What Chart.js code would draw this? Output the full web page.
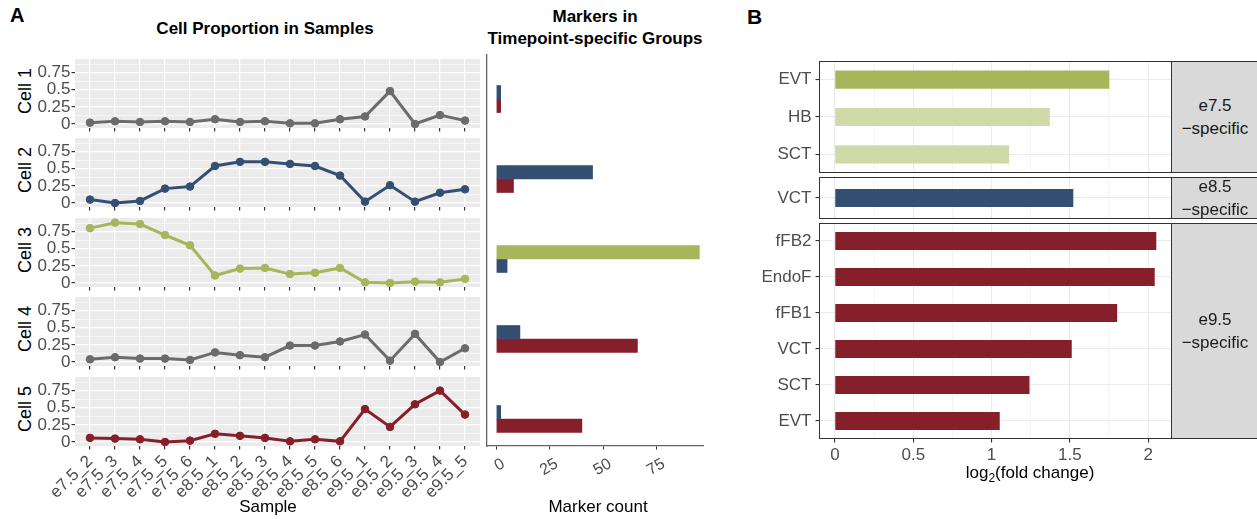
<!DOCTYPE html>
<html>
<head>
<meta charset="utf-8">
<script src="https://cdn.jsdelivr.net/npm/chart.js@4.4.1/dist/chart.umd.min.js"></script>
<style>
  body { margin: 0; background: #fff; }
  #fig { position: relative; width: 1257px; height: 519px; overflow: hidden; font-family: "Liberation Sans", Arial, sans-serif; }
  canvas { position: absolute; }
  .t { position: absolute; white-space: nowrap; line-height: 1; transform: translate(-50%, -50%); color: #000; }
  .lbl { position: absolute; white-space: nowrap; line-height: 1; transform: translate(0, -50%); font-weight: bold; font-size: 20px; }
  .cell { position: absolute; white-space: nowrap; line-height: 1; font-size: 18px; transform: translate(-50%, -50%) rotate(-90deg); }
  .strip { position: absolute; box-sizing: border-box; background: #D9D9D9; border: 1px solid #333;
           display: flex; align-items: center; justify-content: center; text-align: center;
           font-size: 17px; line-height: 23px; color: #1a1a1a; overflow: hidden; }
</style>
</head>
<body>
<div id="fig">
  <div class="lbl" style="left:10px;top:15px;">A</div>
  <div class="lbl" style="left:747px;top:15.5px;font-size:21px;">B</div>

  <div class="t" style="left:265px;top:28px;font-weight:bold;font-size:17px;">Cell Proportion in Samples</div>
  <div class="t" style="left:595px;top:16px;font-weight:bold;font-size:17px;">Markers in</div>
  <div class="t" style="left:595px;top:38px;font-weight:bold;font-size:17px;">Timepoint-specific Groups</div>

  <div class="cell" style="left:25px;top:91px;">Cell 1</div>
  <div class="cell" style="left:25px;top:170px;">Cell 2</div>
  <div class="cell" style="left:25px;top:250px;">Cell 3</div>
  <div class="cell" style="left:25px;top:329px;">Cell 4</div>
  <div class="cell" style="left:25px;top:409px;">Cell 5</div>

  <canvas id="cell1" width="485" height="79" style="left:0;top:54px;"></canvas>
  <canvas id="cell2" width="485" height="79" style="left:0;top:133px;"></canvas>
  <canvas id="cell3" width="485" height="79" style="left:0;top:213px;"></canvas>
  <canvas id="cell4" width="485" height="79" style="left:0;top:292px;"></canvas>
  <canvas id="cell5" width="485" height="146" style="left:0;top:372px;"></canvas>

  <canvas id="markers" width="230" height="422" style="left:480px;top:54px;"></canvas>

  <canvas id="fc1" width="432" height="112" style="left:740px;top:61px;"></canvas>
  <canvas id="fc2" width="432" height="42" style="left:740px;top:177px;"></canvas>
  <canvas id="fc3" width="432" height="250" style="left:740px;top:223px;"></canvas>

  <div class="strip" style="left:1171px;top:61px;width:88px;height:112px;">e7.5<br>&minus;specific</div>
  <div class="strip" style="left:1171px;top:177px;width:88px;height:42px;">e8.5<br>&minus;specific</div>
  <div class="strip" style="left:1171px;top:223px;width:88px;height:216px;">e9.5<br>&minus;specific</div>

  <div class="t" style="left:268px;top:506px;font-size:17px;">Sample</div>
  <div class="t" style="left:598px;top:506px;font-size:17px;">Marker count</div>
  <div class="t" style="left:1030px;top:472px;font-size:17px;">log<span style="font-size:12px;position:relative;top:4px;">2</span>(fold change)</div>
</div>

<script>
// ---- data ----
var samples = ['e7.5_2','e7.5_3','e7.5_4','e7.5_5','e7.5_6',
               'e8.5_1','e8.5_2','e8.5_3','e8.5_4','e8.5_5','e8.5_6',
               'e9.5_1','e9.5_2','e9.5_3','e9.5_4','e9.5_5'];

var cell1 = [0.02,0.04,0.03,0.04,0.03,0.07,0.03,0.04,0.01,0.01,0.07,0.11,0.48,0.00,0.13,0.05];
var cell2 = [0.05,0.00,0.03,0.21,0.24,0.54,0.60,0.60,0.57,0.54,0.40,0.02,0.26,0.02,0.15,0.20];
var cell3 = [0.80,0.88,0.86,0.70,0.55,0.11,0.21,0.22,0.13,0.15,0.22,0.01,0.00,0.02,0.01,0.06];
var cell4 = [0.04,0.07,0.05,0.05,0.03,0.14,0.10,0.07,0.24,0.24,0.30,0.40,0.02,0.41,0.00,0.20];
var cell5 = [0.06,0.05,0.04,0.00,0.02,0.12,0.09,0.06,0.01,0.04,0.01,0.48,0.22,0.55,0.75,0.40];

// marker counts per cell (rows Cell 1..5), one array per timepoint group
var markE75 = [null, null, 95, null, null];
var markE85 = [2, 45, 5, 11, 2];
var markE95 = [2, 8, null, 66, 40];

// log2 fold change per timepoint-specific group
var e75Types = ['EVT','HB','SCT'];
var e75FC    = [1.75, 1.37, 1.11];
var e85Types = ['VCT'];
var e85FC    = [1.52];
var e95Types = ['fFB2','EndoF','fFB1','VCT','SCT','EVT'];
var e95FC    = [2.05, 2.04, 1.80, 1.51, 1.24, 1.05];

// ---- styles ----
var green = '#A7B65A', lightGreen = '#D0DAA9', navy = '#354F73', red = '#851F2A', grey = '#6B6B6B';
var cellValues = [cell1, cell2, cell3, cell4, cell5];
var cellColors = [grey, navy, green, grey, red];
var tickText = '#4D4D4D';

// fills the panel background and/or draws a border round it
var panelBox = {
    id: 'panelBox',
    beforeDraw: function(chart, args, opts){
        if(!opts.color) return;
        var a = chart.chartArea, ctx = chart.ctx;
        ctx.save();
        ctx.fillStyle = opts.color;
        ctx.fillRect(a.left, a.top, a.right - a.left, a.bottom - a.top);
        ctx.restore();
    },
    afterDraw: function(chart, args, opts){
        if(!opts.border) return;
        var a = chart.chartArea, ctx = chart.ctx;
        ctx.save();
        ctx.strokeStyle = opts.border;
        ctx.lineWidth = 1;
        ctx.strokeRect(a.left + 0.5, a.top + 0.5, a.right - a.left - 1, a.bottom - a.top - 1);
        ctx.restore();
    }
};
Chart.register(panelBox);
Chart.defaults.font.family = '"Liberation Sans", Arial, sans-serif';

function isStep(v, step){
    return Math.abs(v / step - Math.round(v / step)) < 1e-6;
}

// fixes an axis box so the plot area lands where the panel is
function fijar(size){
    return function(s){
        if (s.isHorizontal()) s.height = size; else s.width = size;
        s.paddingTop = 0; s.paddingBottom = 0; s.paddingLeft = 0; s.paddingRight = 0;
    };
}

// ---- A: cell proportions ----
function mostrarCelda(i){
    var last = (i == cellValues.length - 1);
    new Chart(document.getElementById('cell' + (i + 1)), {
        type: 'line',
        data: {
            datasets: [{
                data: cellValues[i].map(function(v, k){ return {x: k, y: v}; }),
                borderColor: cellColors[i],
                backgroundColor: cellColors[i],
                borderWidth: 3,
                pointRadius: 3.8,
                pointBorderWidth: 1,
                tension: 0
            }]
        },
        options: {
            responsive: false,
            animation: false,
            events: [],
            layout: { padding: { left: 0, right: 5, top: 0, bottom: 0 } },
            plugins: { legend: { display: false }, tooltip: { enabled: false }, panelBox: { color: '#EBEBEB' } },
            scales: {
                x: {
                    type: 'linear',
                    min: -0.6,
                    max: samples.length - 0.4,
                    afterFit: fijar(last ? 72 : 5),
                    border: { display: false },
                    grid: { color: '#FFFFFF', lineWidth: 1.2, tickColor: '#333333', tickLength: 3.5 },
                    ticks: {
                        display: last,
                        stepSize: 1,
                        includeBounds: false,
                        autoSkip: false,
                        minRotation: 45,
                        maxRotation: 45,
                        padding: 2,
                        color: tickText,
                        font: { size: 17 },
                        callback: function(v){ return samples[v]; }
                    }
                },
                y: {
                    min: -0.058,
                    max: 0.948,
                    afterFit: fijar(75),
                    border: { display: false },
                    grid: {
                        color: '#FFFFFF',
                        lineWidth: function(c){ return isStep(c.tick.value, 0.25) ? 1.2 : 0.6; },
                        tickColor: function(c){ return isStep(c.tick.value, 0.25) ? '#333333' : 'rgba(0,0,0,0)'; },
                        tickLength: 3.5
                    },
                    ticks: {
                        stepSize: 0.125,
                        includeBounds: false,
                        autoSkip: false,
                        padding: 1,
                        color: tickText,
                        font: { size: 17 },
                        callback: function(v){ return isStep(v, 0.25) ? String(v) : ''; }
                    }
                }
            }
        }
    });
}
for (var i = 0; i < cellValues.length; i++) mostrarCelda(i);

// ---- A: marker counts ----
var barStyle = { barThickness: 13.5, skipNull: true };
function filas(arr){
    return arr.map(function(v, k){ return {x: v, y: k}; });
}
new Chart(document.getElementById('markers'), {
    type: 'bar',
    data: {
        datasets: [
            Object.assign({ data: filas(markE75), backgroundColor: green }, barStyle),
            Object.assign({ data: filas(markE85), backgroundColor: navy }, barStyle),
            Object.assign({ data: filas(markE95), backgroundColor: red }, barStyle)
        ]
    },
    options: {
        indexAxis: 'y',
        responsive: false,
        animation: false,
        events: [],
        layout: { padding: { left: 0, right: 7, top: 0, bottom: 0 } },
        plugins: { legend: { display: false }, tooltip: { enabled: false } },
        scales: {
            x: {
                type: 'linear',
                min: -4.4,
                max: 96.7,
                afterFit: fijar(30),
                border: { display: true, color: '#666666', width: 1.3 },
                grid: { drawOnChartArea: false, drawTicks: true, tickColor: '#333333', tickLength: 3.5 },
                ticks: {
                    stepSize: 25,
                    includeBounds: false,
                    minRotation: 30,
                    maxRotation: 30,
                    labelOffset: 7,
                    padding: 5,
                    color: tickText,
                    font: { size: 16 }
                }
            },
            y: {
                type: 'linear',
                reverse: true,
                offset: false,
                min: -0.5625,
                max: 4.3375,
                afterFit: fijar(7),
                border: { display: true, color: '#666666', width: 1.3 },
                grid: { display: false },
                ticks: { display: false }
            }
        }
    }
});

// ---- B: fold change ----
function mostrarFC(id, tipos, valores, colores, ejeX){
    new Chart(document.getElementById(id), {
        type: 'bar',
        data: {
            labels: tipos,
            datasets: [{ data: valores, backgroundColor: colores, barThickness: 17.5 }]
        },
        options: {
            indexAxis: 'y',
            responsive: false,
            animation: false,
            events: [],
            layout: { padding: 0 },
            plugins: { legend: { display: false }, tooltip: { enabled: false }, panelBox: { border: '#333333' } },
            scales: {
                x: {
                    min: -0.1025,
                    max: 2.1525,
                    afterFit: fijar(ejeX ? 34 : 0),
                    border: { display: false },
                    grid: {
                        color: '#EBEBEB',
                        lineWidth: function(c){ return isStep(c.tick.value, 0.5) ? 1.1 : 0.55; },
                        drawTicks: ejeX,
                        tickColor: function(c){ return isStep(c.tick.value, 0.5) ? '#333333' : 'rgba(0,0,0,0)'; },
                        tickLength: 3.5
                    },
                    ticks: {
                        display: ejeX,
                        stepSize: 0.25,
                        includeBounds: false,
                        autoSkip: false,
                        maxRotation: 0,
                        padding: 3,
                        color: tickText,
                        font: { size: 17 },
                        callback: function(v){ return isStep(v, 0.5) ? String(v) : ''; }
                    }
                },
                y: {
                    offset: true,
                    afterFit: fijar(79),
                    border: { display: false },
                    grid: { offset: false, color: '#EBEBEB', lineWidth: 1.1, tickColor: '#333333', tickLength: 3.5 },
                    ticks: { autoSkip: false, padding: 4, color: tickText, font: { size: 17 } }
                }
            }
        }
    });
}
mostrarFC('fc1', e75Types, e75FC, [green, lightGreen, lightGreen], false);
mostrarFC('fc2', e85Types, e85FC, navy, false);
mostrarFC('fc3', e95Types, e95FC, red, true);
</script>
</body>
</html>
